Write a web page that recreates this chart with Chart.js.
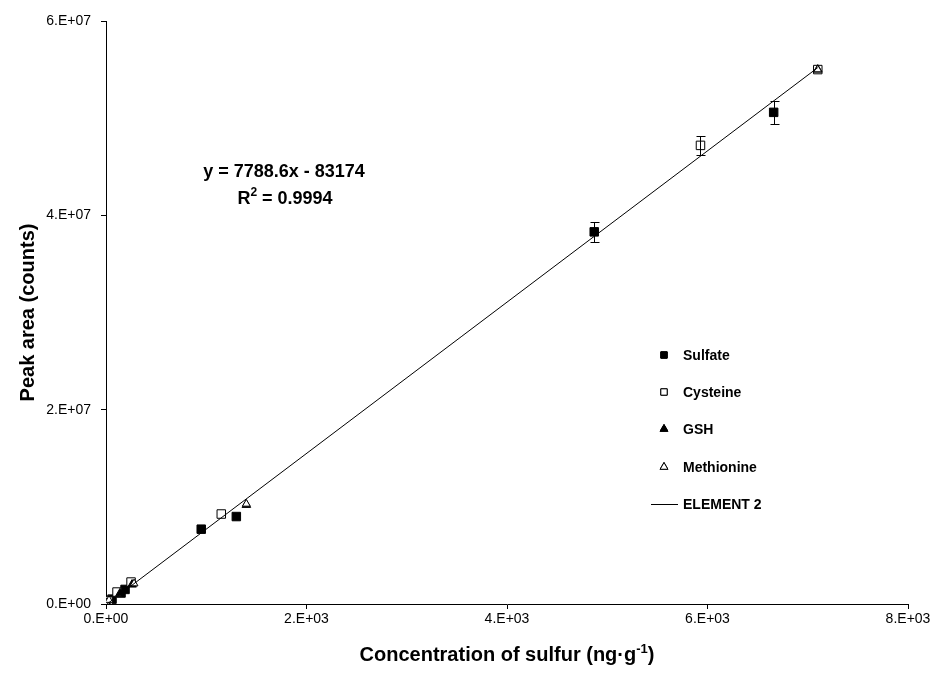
<!DOCTYPE html>
<html>
<head>
<meta charset="utf-8">
<script src="https://cdn.jsdelivr.net/npm/chart.js@4.4.0/dist/chart.umd.min.js"></script>
<style>
  html, body { margin: 0; padding: 0; background: #fff; }
  #wrap { width: 937px; height: 675px; }
</style>
</head>
<body>
<div id="wrap"><canvas id="chart"></canvas></div>
<script>
// ---- values ----
const sulfateX = [5, 60, 150, 190, 950, 1300, 4870, 6660];
const sulfateY = [1.0e5, 5.0e5, 1.13e6, 1.5e6, 7.7e6, 9.0e6, 3.83e7, 5.06e7];
const sulfateErr = [0, 0, 0, 0, 0, 0, 1.0e6, 1.15e6];

const cysteineX = [20, 110, 250, 1150, 5930, 7100];
const cysteineY = [3.0e5, 1.23e6, 2.26e6, 9.26e6, 4.72e7, 5.5e7];
const cysteineErr = [0, 0, 0, 0, 1.0e6, 0];

const gshX = [10, 140, 260, 1400, 7100];
const gshY = [1.0e5, 1.1e6, 2.0e6, 1.02e7, 5.5e7];

const methionineX = [5, 30, 280, 1400, 7100];
const methionineY = [1.0e5, 4.0e5, 2.1e6, 1.03e7, 5.5e7];

// trendline end points (ELEMENT 2)
const fitX = [0, 7100];
const fitY = [-8.3e4, 5.52e7];

const xTicks = [0, 2000, 4000, 6000, 8000];
const yTicks = [0, 2e7, 4e7, 6e7];

const FONT = '"Liberation Sans", Arial, sans-serif';

function pts(xs, ys) {
  return xs.map((x, i) => ({ x: x, y: ys[i] }));
}

// Excel style "2.E+03"
function sciLabel(v) {
  if (v === 0) return '0.E+00';
  const e = Math.floor(Math.log10(v));
  const m = Math.round(v / Math.pow(10, e));
  return m + '.E+' + String(e).padStart(2, '0');
}

// text with a raised small part: [[text, size, rise], ...]
function richText(ctx, parts, cx, base) {
  let total = 0;
  parts.forEach(p => { ctx.font = 'bold ' + p[1] + 'px ' + FONT; total += ctx.measureText(p[0]).width; });
  let x = cx - total / 2;
  ctx.textAlign = 'left';
  parts.forEach(p => {
    ctx.font = 'bold ' + p[1] + 'px ' + FONT;
    ctx.fillText(p[0], x, base - p[2]);
    x += ctx.measureText(p[0]).width;
  });
}

// ---- plugins ----
const errorBars = {
  id: 'errorBars',
  afterDatasetsDraw(chart) {
    const ctx = chart.ctx, xs = chart.scales.x, ys = chart.scales.y;
    const sets = [[sulfateX, sulfateY, sulfateErr], [cysteineX, cysteineY, cysteineErr]];
    ctx.save();
    ctx.strokeStyle = '#000';
    ctx.lineWidth = 1;
    sets.forEach(([xa, ya, ea]) => {
      xa.forEach((x, i) => {
        if (!ea[i]) return;
        const px = Math.round(xs.getPixelForValue(x)) + 0.5;
        const top = Math.round(ys.getPixelForValue(ya[i] + ea[i])) + 0.5;
        const bot = Math.round(ys.getPixelForValue(ya[i] - ea[i])) + 0.5;
        ctx.beginPath();
        ctx.moveTo(px, top); ctx.lineTo(px, bot);
        ctx.moveTo(px - 4, top); ctx.lineTo(px + 5, top);
        ctx.moveTo(px - 4, bot); ctx.lineTo(px + 5, bot);
        ctx.stroke();
      });
    });
    ctx.restore();
  }
};

const annotations = {
  id: 'annotations',
  afterDraw(chart) {
    const ctx = chart.ctx;
    const area = chart.chartArea;
    ctx.save();
    ctx.fillStyle = '#000';
    ctx.textBaseline = 'alphabetic';

    // equation
    ctx.font = 'bold 18px ' + FONT;
    ctx.textAlign = 'center';
    ctx.fillText('y = 7788.6x - 83174', 284, 177);
    richText(ctx, [['R', 18, 0], ['2', 12, 8], [' = 0.9994', 18, 0]], 285, 204);

    // y title
    ctx.save();
    ctx.translate(34, (area.top + area.bottom) / 2);
    ctx.rotate(-Math.PI / 2);
    ctx.font = 'bold 20px ' + FONT;
    ctx.textAlign = 'center';
    ctx.fillText('Peak area (counts)', 0, 0);
    ctx.restore();

    // x title with superscript
    richText(ctx, [['Concentration of sulfur (ng\u00B7g', 20, 0], ['-1', 13, 8], [')', 20, 0]],
      (area.left + area.right) / 2, 661);

    // legend
    const rows = [355, 392, 429, 467, 504];
    const mx = 664;
    ctx.font = 'bold 14px ' + FONT;
    ctx.textAlign = 'left';
    ctx.textBaseline = 'middle';
    chart.data.datasets.forEach((ds, i) => {
      const y = rows[i];
      ctx.fillStyle = '#000';
      ctx.fillText(ds.label, 683, y + 1);
      ctx.lineWidth = 1;
      ctx.strokeStyle = '#000';
      if (ds.type === 'line') {
        ctx.beginPath();
        ctx.moveTo(651, y + 0.5); ctx.lineTo(678, y + 0.5);
        ctx.stroke();
      } else {
        Chart.helpers.drawPoint(ctx, {
          pointStyle: ds.pointStyle, radius: 4.5, rotation: 0, borderWidth: 1
        }, mx, y);
        ctx.fillStyle = ds.backgroundColor;
        ctx.fill();
        ctx.stroke();
      }
    });
    ctx.restore();
  }
};

// ---- chart ----
new Chart(document.getElementById('chart'), {
  type: 'scatter',
  data: {
    datasets: [
      { label: 'Sulfate', data: pts(sulfateX, sulfateY), pointStyle: 'rect',
        backgroundColor: '#000', borderColor: '#000', borderWidth: 1, pointRadius: 6, order: 4 },
      { label: 'Cysteine', data: pts(cysteineX, cysteineY), pointStyle: 'rect',
        backgroundColor: '#fff', borderColor: '#000', borderWidth: 1, pointRadius: 6, order: 3 },
      { label: 'GSH', data: pts(gshX, gshY), pointStyle: 'triangle',
        backgroundColor: '#000', borderColor: '#000', borderWidth: 1, pointRadius: 5, order: 2 },
      { label: 'Methionine', data: pts(methionineX, methionineY), pointStyle: 'triangle',
        backgroundColor: '#fff', borderColor: '#000', borderWidth: 1, pointRadius: 4.5, order: 1 },
      { label: 'ELEMENT 2', type: 'line', data: pts(fitX, fitY), borderColor: '#000',
        borderWidth: 1, pointRadius: 0, fill: false, tension: 0, order: 0 }
    ]
  },
  options: {
    responsive: true,
    maintainAspectRatio: false,
    animation: false,
    layout: { padding: { left: 0, right: 29, top: 21, bottom: 0 } },
    plugins: {
      legend: { display: false },
      tooltip: { enabled: false }
    },
    scales: {
      x: {
        type: 'linear', min: 0, max: 8000,
        afterFit(s) { s.height = 71; },
        afterBuildTicks(s) { s.ticks = xTicks.map(v => ({ value: v })); },
        border: { display: true, color: '#000', width: 1 },
        grid: { display: true, drawOnChartArea: false, drawTicks: true, tickLength: 5, color: '#000' },
        ticks: { color: '#000', font: { family: FONT, size: 14 }, padding: 2, maxRotation: 0,
                 callback: v => sciLabel(v) }
      },
      y: {
        type: 'linear', min: 0, max: 6e7,
        afterFit(s) { s.width = 106; },
        afterBuildTicks(s) { s.ticks = yTicks.map(v => ({ value: v })); },
        border: { display: true, color: '#000', width: 1 },
        grid: { display: true, drawOnChartArea: false, drawTicks: true, tickLength: 5, color: '#000' },
        ticks: { color: '#000', font: { family: FONT, size: 14 }, padding: 10,
                 callback: v => sciLabel(v) }
      }
    }
  },
  plugins: [errorBars, annotations]
});
</script>
</body>
</html>
